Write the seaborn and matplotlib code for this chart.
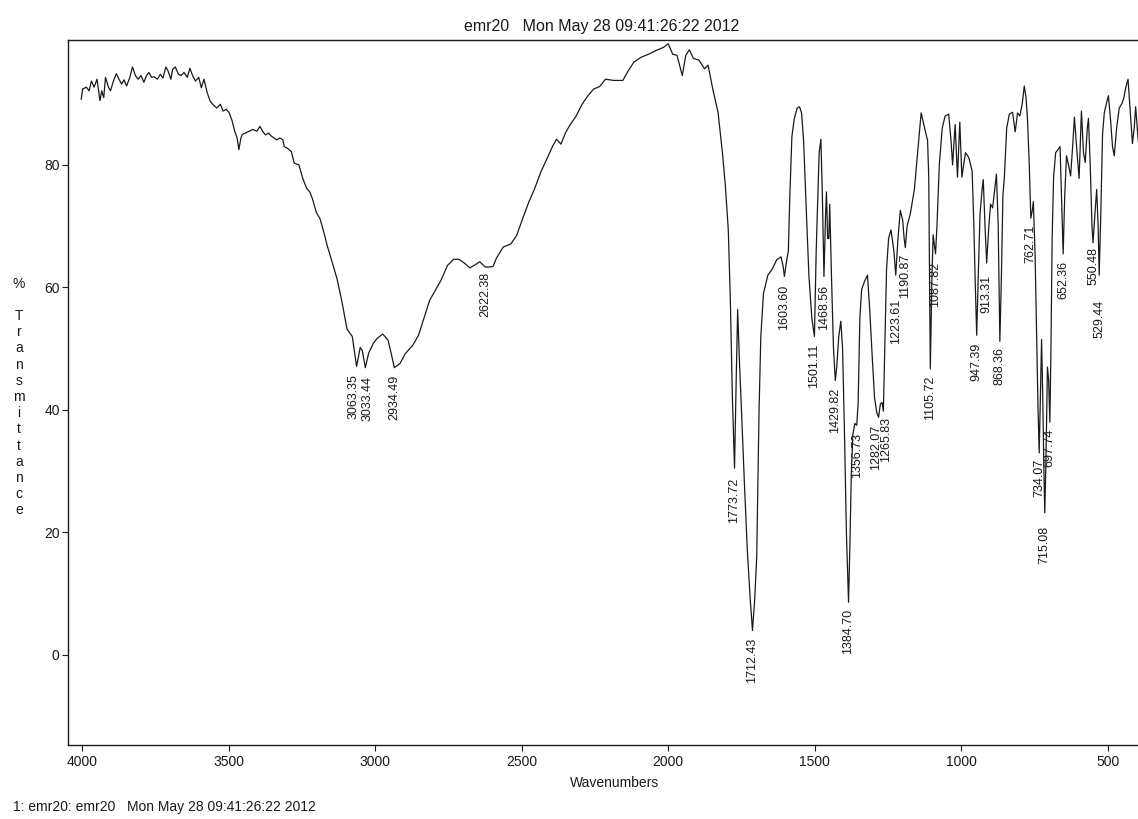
import matplotlib
matplotlib.use("Agg")
import matplotlib.pyplot as plt
import seaborn as sns
import pandas as pd

# ---------------- data ----------------
wavenumber = [
    4003, 3998, 3985, 3976, 3968, 3959, 3949, 3939, 3933, 3926, 3920, 3910, 3903, 3893, 3883,
    3874, 3865, 3857, 3848, 3837, 3828, 3818, 3809, 3799, 3789, 3780, 3772, 3763, 3754, 3743,
    3733, 3724, 3714, 3707, 3697, 3691, 3682, 3671, 3662, 3652, 3641, 3632, 3623, 3613, 3602,
    3593, 3584, 3573, 3563, 3554, 3541, 3528, 3519, 3508, 3498, 3488, 3479, 3471, 3465, 3458,
    3453, 3443, 3430, 3417, 3404, 3393, 3384, 3374, 3364, 3354, 3345, 3336, 3325, 3315, 3310,
    3299, 3286, 3276, 3260, 3247, 3234, 3223, 3214, 3201, 3188, 3175, 3164, 3147, 3130, 3113,
    3096, 3078, 3063.35, 3051, 3044, 3033.44, 3022, 3006, 2993, 2974, 2956, 2945, 2934.49, 2915,
    2897, 2871, 2852, 2834, 2814, 2795, 2776, 2753, 2732, 2714, 2696, 2677, 2659, 2643, 2628,
    2622.38, 2598, 2586, 2563, 2537, 2517, 2497, 2476, 2456, 2435, 2415, 2394, 2381, 2366, 2350,
    2334, 2314, 2294, 2274, 2254, 2234, 2214, 2186, 2155, 2136, 2117, 2092, 2066, 2041, 2016,
    2000, 1985, 1970, 1952, 1940, 1928, 1914, 1895, 1876, 1864, 1848, 1830, 1815, 1805, 1795,
    1788, 1781, 1773.72, 1768, 1763, 1757, 1750, 1740, 1730, 1720, 1712.43, 1705, 1698, 1690,
    1684, 1675, 1660, 1645, 1630, 1615, 1608, 1603.60, 1597, 1590, 1585, 1578, 1570, 1560, 1552,
    1545, 1538, 1530, 1520, 1510, 1501.11, 1495, 1485, 1479, 1474, 1468.56, 1463, 1460, 1456,
    1452, 1449, 1443, 1436, 1432, 1429.82, 1425, 1418, 1411, 1405, 1398, 1392, 1384.70, 1380,
    1375, 1370, 1363, 1356.73, 1352, 1346, 1340, 1330, 1320, 1312, 1304, 1296, 1288, 1282.07,
    1276, 1270, 1265.83, 1260, 1255, 1248, 1240, 1230, 1223.61, 1216, 1208, 1200, 1195, 1190.87,
    1185, 1174, 1160, 1149, 1137, 1125, 1115, 1111, 1105.72, 1100, 1096, 1092, 1087.82, 1083,
    1075, 1065, 1055, 1043, 1035, 1029.6, 1021, 1013, 1005, 998, 992, 985.6, 978, 973, 963,
    957, 952, 947.39, 942, 936, 929, 925, 919, 913.31, 906, 900, 893, 886, 880, 874, 868.36,
    863, 858, 853, 845, 836, 825, 816, 808, 800, 792, 785, 779, 774, 768, 762.71, 758, 754,
    748, 742, 738, 734.07, 730, 726, 722, 718, 715.08, 711, 706, 702, 697.74, 694, 690, 685,
    678, 670, 663, 658, 652.36, 647, 641, 634, 627, 620, 614, 605, 598, 590, 583, 577, 570,
    566, 560, 554, 550.48, 544, 538, 533, 529.44, 524, 518, 512, 505, 498, 490, 484, 478, 470,
    461, 452, 445, 439, 431, 424, 416, 410, 405, 398, 393,
]
transmittance = [
    90.7, 92.4, 92.7, 92.1, 93.7, 92.7, 94.0, 90.5, 92.1, 91.0, 94.3, 92.7, 92.1, 93.7, 94.9,
    94.0, 93.2, 93.9, 92.9, 94.3, 96.0, 94.6, 94.0, 94.6, 93.5, 94.6, 95.1, 94.3, 94.4, 94.0,
    94.8, 94.2, 96.0, 95.4, 94.0, 95.6, 96.0, 94.8, 94.6, 95.1, 94.3, 95.8, 94.6, 93.7, 94.3,
    92.6, 94.0, 91.8, 90.4, 89.9, 89.3, 89.9, 88.8, 89.1, 88.5, 87.2, 85.5, 84.4, 82.5, 84.4,
    85.0, 85.2, 85.5, 85.8, 85.5, 86.3, 85.5, 84.9, 85.2, 84.7, 84.4, 84.1, 84.4, 84.1, 83.0,
    82.7, 82.2, 80.3, 80.0, 77.8, 76.2, 75.6, 74.5, 72.3, 71.2, 69.0, 66.9, 64.2, 61.4, 57.6,
    53.2, 52.0, 47.1, 50.2, 49.7, 46.9, 49.3, 50.9, 51.7, 52.4, 51.4, 49.2, 46.9, 47.6,
    49.2, 50.6, 52.2, 54.9, 57.9, 59.5, 61.1, 63.6, 64.6, 64.6, 64.0, 63.2, 63.7, 64.2, 63.5,
    63.3, 63.4, 64.8, 66.6, 67.1, 68.5, 71.2, 73.9, 76.1, 78.8, 80.9, 83.1, 84.2, 83.4, 85.3,
    86.6, 88.0, 89.9, 91.3, 92.4, 92.8, 94.0, 93.8, 93.8, 95.4, 96.8, 97.6, 98.1, 98.7, 99.2,
    99.8, 98.1, 97.9, 94.6, 97.9, 98.8, 97.4, 97.1, 95.7, 96.3, 92.4, 88.6, 82.0, 76.6, 69.4,
    58.0, 42.0, 30.5, 45.0, 56.4, 48.0, 40.0, 28.0, 17.0, 9.0, 4.0, 9.0, 16.0, 40.0,
    52.0, 59.0, 62.0, 63.0, 64.5, 65.0, 63.5, 61.8, 64.0, 66.0, 75.0, 84.6, 87.5, 89.3, 89.5,
    88.5, 84.0, 74.0, 62.0, 55.0, 52.0, 66.0, 82.0, 84.2, 75.0, 61.8, 72.0, 75.6, 68.0,
    68.0, 73.6, 62.0, 50.0, 46.5, 44.8, 47.0, 52.0, 54.5, 50.0, 35.0, 20.0, 8.6, 18.0,
    30.0, 36.0, 37.8, 37.5, 41.0, 55.0, 59.7, 61.0, 62.0, 56.0, 48.8, 42.0, 39.5, 38.8,
    41.0, 41.2, 39.8, 52.0, 63.0, 68.0, 69.4, 66.0, 62.0, 68.0, 72.6, 71.0, 68.0, 66.5,
    70.0, 72.0, 76.0, 82.0, 88.5, 86.0, 84.0, 78.0, 46.7, 62.0, 68.6, 67.0, 65.5, 70.0,
    80.0, 86.0, 88.0, 88.3, 84.0, 80.0, 86.6, 78.0, 87.0, 78.0, 80.0, 82.0, 81.5, 81.0, 79.0,
    70.0, 60.0, 52.2, 62.0, 72.0, 76.0, 77.6, 70.0, 64.0, 70.0, 73.6, 73.0, 76.0, 78.5, 70.0, 51.2,
    62.0, 75.0, 78.0, 86.0, 88.3, 88.6, 85.4, 88.5, 88.0, 90.0, 92.9, 91.0, 87.4, 80.0, 71.3, 72.5, 74.0,
    65.0, 50.0, 40.0, 33.0, 42.0, 51.5, 42.0, 30.0, 23.2, 32.0, 47.0, 45.0, 38.0, 50.0, 68.0, 78.0,
    82.0, 82.5, 83.0, 75.0, 65.5, 75.0, 81.5, 80.0, 78.2, 83.0, 87.8, 82.0, 77.8, 88.8, 82.0, 80.4, 86.0,
    87.6, 80.0, 70.0, 67.3, 72.0, 76.0, 70.0, 62.0, 72.0, 85.0, 88.5, 90.0, 91.3, 87.0, 83.0, 81.5, 86.0,
    89.3, 90.0, 91.0, 92.6, 94.0, 89.0, 83.5, 86.0, 89.5, 85.0, 82.6,
]

# peak annotations: value, where the text is centred (cm-1) and the %T where it starts
peak_text = ["3063.35", "3033.44", "2934.49", "2622.38", "1773.72", "1712.43", "1603.60",
             "1501.11", "1468.56", "1429.82", "1384.70", "1356.73", "1282.07", "1265.83",
             "1223.61", "1190.87", "1105.72", "1087.82", "947.39", "913.31", "868.36",
             "762.71", "734.07", "715.08", "697.74", "652.36", "550.48", "529.44"]
peak_label_x = [3073, 3025, 2934.49, 2622.38, 1773.72, 1712.43, 1603.60, 1501.11,
                1468.56, 1429.82, 1384.70, 1356.73, 1292, 1255, 1223.61, 1190.87,
                1105.72, 1087.82, 947.39, 913.31, 868.36, 762.71, 734.07, 715.08,
                697.74, 652.36, 550.48, 529.44]
peak_label_top = [45.8, 45.5, 45.7, 62.5, 29.0, 2.8, 60.5, 50.9,
                  60.5, 43.7, 7.6, 36.3, 37.6, 38.8, 58.2, 65.5,
                  45.6, 64.2, 51.0, 62.0, 50.2, 70.2, 32.0, 21.0,
                  36.9, 64.3, 66.6, 58.0]

x_ticks = [4000, 3500, 3000, 2500, 2000, 1500, 1000, 500]
y_ticks = [0, 20, 40, 60, 80]

title_text = "emr20   Mon May 28 09:41:26:22 2012"
footer_text = "1: emr20: emr20   Mon May 28 09:41:26:22 2012"
x_label = "Wavenumbers"
y_label = "%\n\nT\nr\na\nn\ns\nm\ni\nt\nt\na\nn\nc\ne"

# ---------------- drawing ----------------
sns.set_style("ticks")
plt.rcParams["font.family"] = ["Liberation Sans", "DejaVu Sans"]

W, H = 1138, 819
fig = plt.figure(figsize=(W / 100, H / 100), dpi=100)
ax = fig.add_axes([68 / W, 1 - 745 / H, (W - 68) / W, 705 / H])

df = pd.DataFrame({"wavenumber": wavenumber, "T": transmittance})
sns.lineplot(data=df, x="wavenumber", y="T", ax=ax, color="#1a1a1a",
             linewidth=0.9, estimator=None, sort=False)

ax.set_xlim(4048, 397)
ax.set_ylim(-14.7, 100.4)
ax.set_xticks(x_ticks)
ax.set_xticklabels([str(t) for t in x_ticks])
ax.set_yticks(y_ticks)
ax.set_yticklabels([str(t) for t in y_ticks])
ax.set_xlabel("")
ax.set_ylabel("")

for sp in ["left", "bottom", "top"]:
    ax.spines[sp].set_color("#1a1a1a")
    ax.spines[sp].set_linewidth(1.0)
ax.spines["right"].set_visible(False)
ax.tick_params(axis="both", direction="out", length=4.5, width=0.8, color="#1a1a1a",
               labelsize=10, labelcolor="#1a1a1a")
ax.tick_params(axis="y", pad=1.5)
ax.tick_params(axis="x", pad=3)

for pos, txt, top in zip(peak_label_x, peak_text, peak_label_top):
    ax.text(pos, top, txt, rotation=90, ha="center", va="top", fontsize=9,
            color="#1a1a1a")

fig.text(602 / W, 1 - 27 / H, title_text, ha="center", va="center", fontsize=11.5,
         color="#1a1a1a")
fig.text(615 / W, 1 - 783 / H, x_label, ha="center", va="center", fontsize=10,
         color="#1a1a1a")
fig.text(13 / W, 1 - 807 / H, footer_text, ha="left", va="center", fontsize=10,
         color="#1a1a1a")
fig.text(19 / W, 1 - 397 / H, y_label, ha="center", va="center", fontsize=10,
         linespacing=1.2, multialignment="center", color="#1a1a1a")

fig.savefig("out.png", dpi=100, facecolor="white")
